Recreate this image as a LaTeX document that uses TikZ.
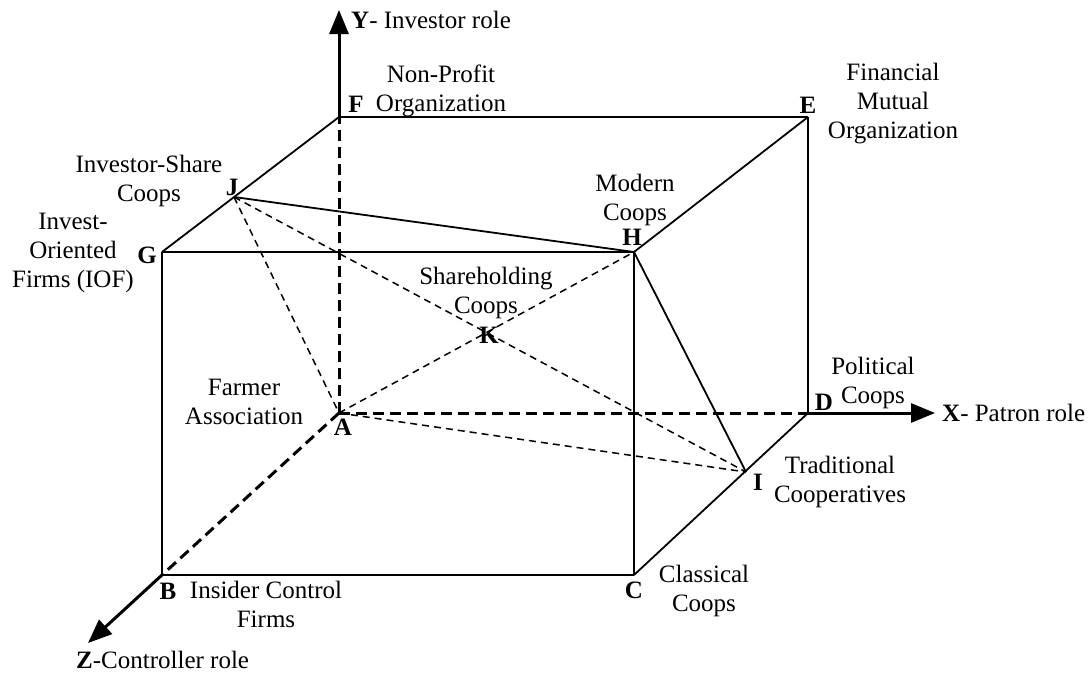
\documentclass[tikz,border=0pt]{standalone}
\usepackage{fontspec}
\setmainfont{Liberation Serif}
\usetikzlibrary{arrows.meta}

\tikzset{
  roleaxis/.style={line width=3pt,-{Triangle[length=24pt,width=19pt]}},
  axisdash/.style={line width=3pt,dash pattern=on 11pt off 6pt},
  boxline/.style={line width=1.8pt},
  thindash/.style={line width=1.5pt,dash pattern=on 7pt off 5pt},
  corner/.style={font=\fontsize{25}{29}\selectfont\bfseries,inner sep=0pt},
  role/.style={font=\fontsize{25}{29}\selectfont,align=center,inner sep=0pt},
}

\begin{document}
\begin{tikzpicture}[x=1pt,y=-1pt]

      \useasboundingbox (0,0) rectangle (1092,673);

      % corners of the box
      \coordinate (A) at (339,413);
      \coordinate (B) at (162,575);
      \coordinate (C) at (634,575);
      \coordinate (D) at (808,413);
      \coordinate (E) at (808,117);
      \coordinate (F) at (339,117);
      \coordinate (G) at (162,252);
      \coordinate (H) at (634,252);
      \coordinate (I) at (746,472);
      \coordinate (J) at (234,197);

      % ends of the axes
      \coordinate (Xtip) at (935,413);
      \coordinate (Ytip) at (339,10);
      \coordinate (Ztip) at (88,643);

      \begin{scope}[every edge/.style={draw,boxline}]
        \path (B) edge (C);
        \path (C) edge (H);
        \path (H) edge (G);
        \path (G) edge (B);
        \path (G) edge (F);
        \path (F) edge (E);
        \path (E) edge (D);
        \path (H) edge (E);
        \path (C) edge (D);
        \path (J) edge (H);
        \path (H) edge (I);
      \end{scope}

      \begin{scope}[every edge/.style={draw,thindash}]
        \path (J) edge (A);
        \path (J) edge (I);
        \path (A) edge (H);
        \path (A) edge (I);
      \end{scope}

      \begin{scope}[every edge/.style={draw,axisdash}]
        \path (A) edge (F);
        \path (A) edge (D);
        \path (A) edge (B);
      \end{scope}

      \draw[roleaxis] (F) -- (Ytip);
      \draw[roleaxis] (D) -- (Xtip);
      \draw[roleaxis] (B) -- (Ztip);

      \begin{scope}[every node/.style={corner}]
        \node (lA) at (343,427) {A};
        \node (lB) at (168,591) {B};
        \node (lC) at (634,590) {C};
        \node (lD) at (824,402) {D};
        \node (lE) at (808,105) {E};
        \node (lF) at (356,104) {F};
        \node (lG) at (147,255) {G};
        \node (lH) at (632,237) {H};
        \node (lI) at (758,482) {I};
        \node (lJ) at (232,187) {J};
        \node (lK) at (489,335) {K};
      \end{scope}

      \begin{scope}[every node/.style={role}]
        \node (nonprofit)   at (441,91)  {Non-Profit\\Organization};
        \node (financial)   at (893,104) {Financial\\Mutual\\Organization};
        \node (investshare) at (149,181) {Investor-Share\\Coops};
        \node (iof)         at (73,253)  {Invest-\\Oriented\\Firms (IOF)};
        \node (modern)      at (635,200) {Modern\\Coops};
        \node (shareholding) at (486,293) {Shareholding\\Coops};
        \node (farmer)      at (244,402) {Farmer\\Association};
        \node (political)   at (873,383) {Political\\Coops};
        \node (traditional) at (840,482) {Traditional\\Cooperatives};
        \node (classical)   at (704,591) {Classical\\Coops};
        \node (insider)     at (266,604) {Insider Control\\Firms};
      \end{scope}

      \begin{scope}[every node/.style={role,anchor=west}]
        \node (ylabel) at (351,20)  {\textbf{Y}- Investor role};
        \node (xlabel) at (942,413) {\textbf{X}- Patron role};
        \node (zlabel) at (76,660)  {\textbf{Z}-Controller role};
      \end{scope}

    \end{tikzpicture}
\end{document}
